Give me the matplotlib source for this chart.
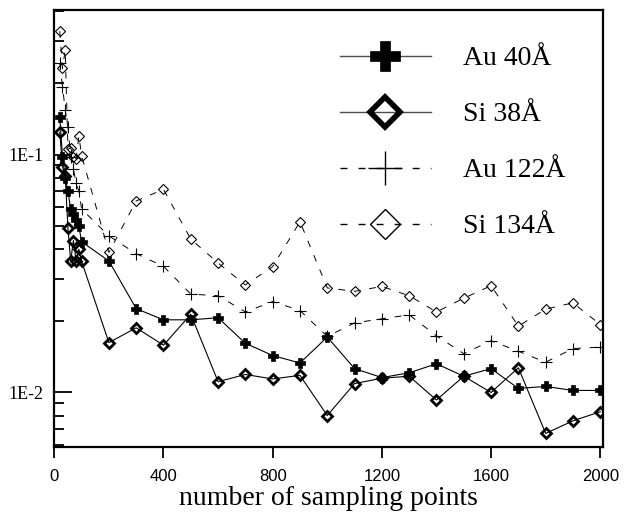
import numpy as np
import matplotlib
matplotlib.use("Agg")
import matplotlib.pyplot as plt
from matplotlib.lines import Line2D
from matplotlib.ticker import FixedLocator, NullFormatter

# ---- data ----
x_points = [20, 30, 40, 50, 60, 70, 80, 90, 100,
            200, 300, 400, 500, 600, 700, 800, 900, 1000, 1100,
            1200, 1300, 1400, 1500, 1600, 1700, 1800, 1900, 2000]

au_40 = [0.144, 0.098, 0.080, 0.070, 0.059, 0.056, 0.053, 0.050, 0.043,
         0.0357, 0.0225, 0.0202, 0.0202, 0.0206, 0.0161, 0.0143, 0.0133, 0.0171, 0.0126,
         0.01155, 0.0121, 0.0132, 0.0117, 0.0126, 0.0104, 0.0106, 0.0102, 0.0102]

si_38 = [0.124, 0.089, 0.081, 0.049, 0.0356, 0.0435, 0.0356, 0.040, 0.0356,
         0.0162, 0.0187, 0.0158, 0.0213, 0.0111, 0.0119, 0.0114, 0.0118, 0.0080, 0.0109,
         0.01148, 0.0117, 0.0093, 0.0117, 0.0100, 0.0127, 0.00673, 0.0076, 0.0083]

au_122 = [0.242, 0.193, 0.154, 0.130, 0.098, 0.087, 0.076, 0.070, 0.059,
          0.0455, 0.0383, 0.0339, 0.0259, 0.0255, 0.0218, 0.0241, 0.0221, 0.0172, 0.0196,
          0.0204, 0.0212, 0.0173, 0.01456, 0.0165, 0.0149, 0.0134, 0.0153, 0.0155]

si_134 = [0.33, 0.23, 0.275, 0.105, 0.107, 0.098, 0.096, 0.120, 0.099,
          0.0388, 0.0638, 0.0714, 0.0441, 0.035, 0.0283, 0.0338, 0.0522, 0.0275, 0.0266,
          0.0279, 0.0255, 0.0218, 0.0249, 0.0281, 0.019, 0.0224, 0.0238, 0.0193]

labels = ["Au 40Å", "Si 38Å", "Au 122Å", "Si 134Å"]
x_ticks = [0, 400, 800, 1200, 1600, 2000]
y_major = [0.01, 0.1]
y_major_labels = ["1E-2", "1E-1"]

SERIF = "Liberation Serif"
SANS = "Liberation Sans"
DASH = (0, (7, 9))

fig = plt.figure(figsize=(6.27, 5.17), dpi=100)
ax = fig.add_axes([0.0866, 0.1354, 0.8751, 0.8453])

ax.plot(x_points, au_40, color="black", lw=0.8, marker="P", ms=7, mfc="black",
        mec="black", mew=0.5)
ax.plot(x_points, si_38, color="black", lw=0.8, marker="D", ms=5, mfc="none",
        mec="black", mew=2.0)
ax.plot(x_points, au_122, color="black", lw=0.7, ls=DASH, marker="+", ms=8,
        mec="black", mew=0.8)
ax.plot(x_points, si_134, color="black", lw=0.7, ls=DASH, marker="D", ms=5.5,
        mfc="none", mec="black", mew=0.8)

ax.set_yscale("log")
ax.set_xlim(0, 2010)
ax.set_ylim(0.0059, 0.405)

# x axis
ax.set_xticks(x_ticks)
ax.set_xticklabels([str(t) for t in x_ticks], fontfamily=SANS, fontsize=12)
ax.tick_params(axis="x", direction="out", length=8, width=1.3, pad=8,
               top=False)
ax.set_xlabel("number of sampling points", fontfamily=SERIF, fontsize=20,
              labelpad=1)

# y axis
ax.yaxis.set_major_locator(FixedLocator(y_major))
ax.set_yticklabels(y_major_labels, fontfamily=SERIF, fontsize=13)
minor = [m * d for d in (0.001, 0.01, 0.1) for m in range(2, 10)]
ax.yaxis.set_minor_locator(FixedLocator(minor))
ax.yaxis.set_minor_formatter(NullFormatter())
ax.tick_params(axis="y", which="major", direction="in", length=13, width=1.3,
               pad=8, right=False)
ax.tick_params(axis="y", which="minor", direction="in", length=7, width=1.3,
               right=False)

for s in ax.spines.values():
    s.set_linewidth(1.6)

# legend with big markers
handles = [
    Line2D([], [], color="0.3", lw=1.0, marker="P", ms=22, mfc="black",
           mec="black", mew=0.5),
    Line2D([], [], color="0.3", lw=1.0, marker="D", ms=15, mfc="none",
           mec="black", mew=4.0),
    Line2D([], [], color="black", lw=1.0, ls=(0, (5, 8)), marker="+", ms=25,
           mec="black", mew=1.0),
    Line2D([], [], color="black", lw=1.0, ls=(0, (5, 8)), marker="D", ms=15,
           mfc="none", mec="black", mew=1.0),
]
ax.legend(handles, labels, loc="upper left", bbox_to_anchor=(0.52, 0.918),
          frameon=False, prop={"family": SERIF, "size": 20},
          handlelength=3.3, handletextpad=1.15, labelspacing=1.1,
          borderpad=0, borderaxespad=0)

fig.savefig("out.png", dpi=100)
